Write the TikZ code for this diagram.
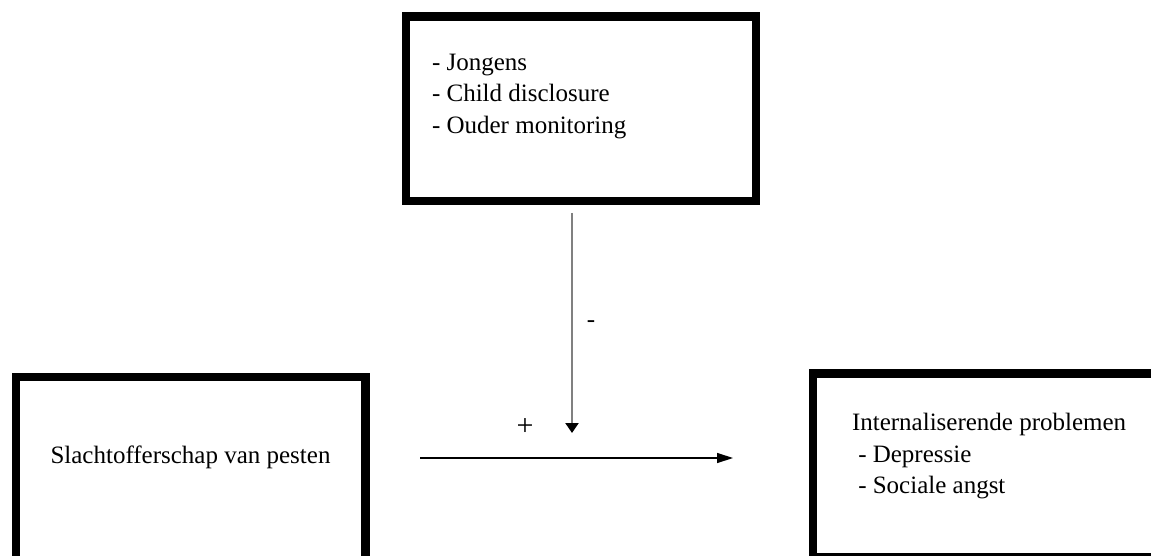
\documentclass[tikz,border=0pt]{standalone}
\usepackage{fontspec}
\setmainfont{Liberation Serif}
\usetikzlibrary{arrows.meta}
\tikzset{
  box/.style={draw=black, fill=white, line width=8.3pt, rectangle, inner sep=0pt, outer sep=0pt},
  boxtext/.style={inner sep=0pt, outer sep=0pt, align=left, font=\fontsize{25}{31.5}\selectfont, text=black},
  sign/.style={inner sep=0pt, outer sep=0pt, font=\fontsize{25}{30}\selectfont},
  modarrow/.style={draw=black!50, line width=2.2pt, -{Triangle[length=10pt,width=13pt,color=black]}},
  mainarrow/.style={draw=black, line width=1.3pt, -{Triangle[length=16pt,width=10pt]}}
}
\begin{document}
\begin{tikzpicture}[x=1pt,y=-1pt]
\useasboundingbox (0,0) rectangle (1151,556);
\clip (0,0) rectangle (1151,556);
\fill[white] (0,0) rectangle (1151,556);
% boxes
\node[box, minimum width=350pt, minimum height=184.5pt] (mod) at (581,108.75) {};
\node[box, minimum width=349.5pt, minimum height=188pt] (pest) at (190.75,471) {};
\node[box, minimum width=347pt, minimum height=183.75pt] (intern) at (986.5,465.4) {};
% texts
\node[boxtext, anchor=north west] (modtext) at (432,54) {- Jongens\\- Child disclosure\\- Ouder monitoring};
\node[boxtext, anchor=base] (pesttext) at (190.5,463.5) {Slachtofferschap van pesten};
\node[boxtext, anchor=north west] (interntext) at (852,413.5) {Internaliserende problemen\\\hspace*{0.25em}- Depressie\\\hspace*{0.25em}- Sociale angst};
% connectors
\coordinate (vs) at (572,213);
\coordinate (ve) at (572,433);
\coordinate (hs) at (420,458);
\coordinate (he) at (733,458);
\draw[modarrow] (vs) -- (ve);
\draw[mainarrow] (hs) -- (he);
% signs
\node[sign, anchor=base] (minus) at (591,327.5) {-};
\node[sign, font=\fontsize{30}{34}\selectfont] (plus) at (525,427) {+};
\end{tikzpicture}
\end{document}
